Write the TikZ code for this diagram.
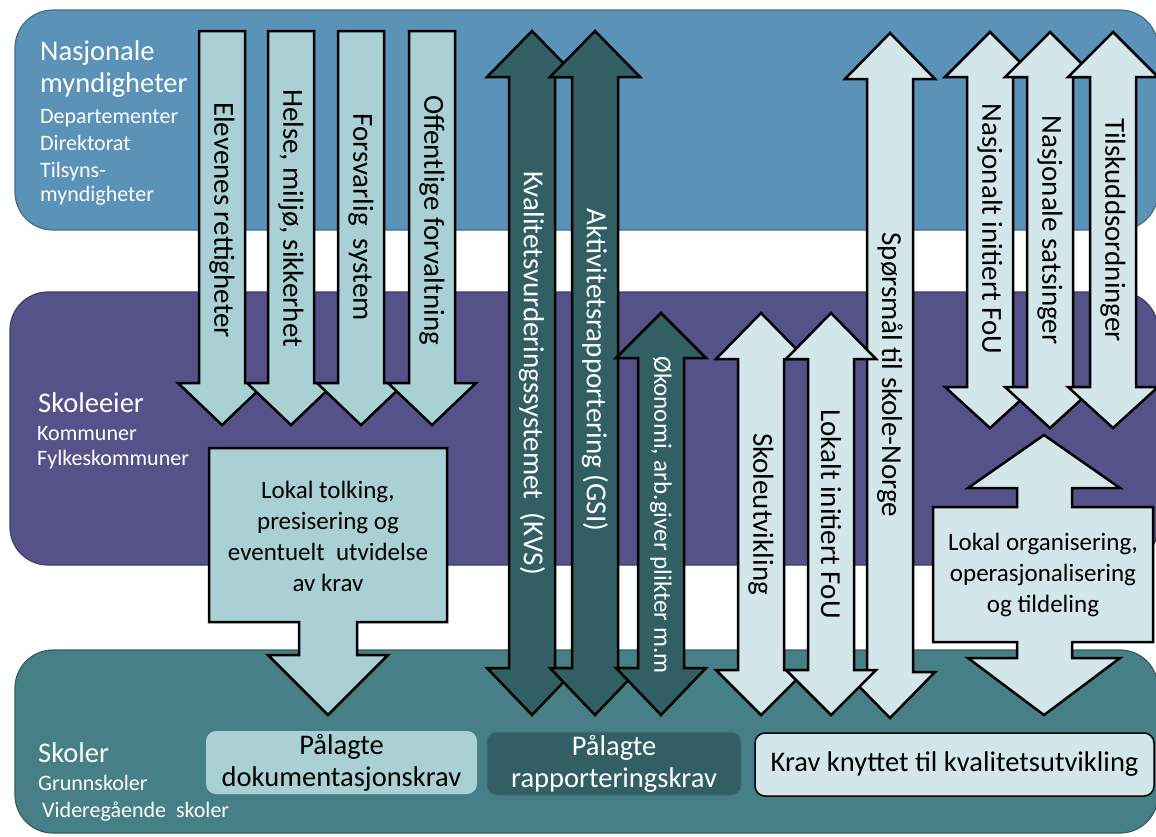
\documentclass[tikz,border=0pt]{standalone}
\usepackage{fontspec}
\setmainfont{Carlito}

\definecolor{topband}{HTML}{5B92B8}
\definecolor{midband}{HTML}{55528A}
\definecolor{botband}{HTML}{467F85}
\definecolor{lightarrow}{HTML}{A9D1D5}
\definecolor{palearrow}{HTML}{D3E7EA}
\definecolor{darkarrow}{HTML}{315F63}

\tikzset{
  band/.style={rounded corners=38pt, line width=1.2pt},
  blockline/.style={draw=black, line width=2.5pt, line join=miter},
  vtext/.style={rotate=-90, inner sep=0pt, font=\fontsize{29}{33}\selectfont},
  headlabel/.style={anchor=base west, inner sep=0pt, text=white, font=\fontsize{28.5}{32}\selectfont},
  sublabel/.style={anchor=base west, inner sep=0pt, text=white, font=\fontsize{22}{26}\selectfont},
  boxtext/.style={align=center, inner sep=0pt, font=\fontsize{25}{31}\selectfont},
  reqbox/.style={rounded corners=10pt, align=center, inner sep=0pt, font=\fontsize{28.5}{32}\selectfont}
}

% single block arrow pointing down: fill, x, top, head base, tip
\newcommand{\downblock}[5]{%
  \draw[blockline, fill=#1] (#2-23,#3) -- (#2+23,#3) -- (#2+23,#4) -- (#2+44,#4)
    -- (#2,#5) -- (#2-44,#4) -- (#2-23,#4) -- cycle;}

% block arrow with heads at both ends: fill, x, top tip, top base, bottom base, bottom tip
\newcommand{\bothblock}[6]{%
  \draw[blockline, fill=#1] (#2,#3) -- (#2+45,#4) -- (#2+23,#4) -- (#2+23,#5) -- (#2+45,#5)
    -- (#2,#6) -- (#2-45,#5) -- (#2-23,#5) -- (#2-23,#4) -- (#2-45,#4) -- cycle;}

\begin{document}
\begin{tikzpicture}[x=1pt, y=-1pt]
  \useasboundingbox[fill=white] (0,0) rectangle (1156,836);

  % the three levels
  \draw[band, fill=topband, draw=topband!75!black] (15,10) rectangle (1158,230);
  \draw[band, fill=midband, draw=midband!75!black] (10,292) rectangle (1158,565);
  \draw[band, fill=botband, draw=botband!75!black] (15,650) rectangle (1158,833);

  \node[headlabel] (nasA) at (40,60) {Nasjonale};
  \node[headlabel] (nasB) at (40,92) {myndigheter};
  \node[sublabel] (dep) at (40,123) {Departementer};
  \node[sublabel] (dir) at (40,150) {Direktorat};
  \node[sublabel] (tilA) at (40,177) {Tilsyns-};
  \node[sublabel] (tilB) at (40,201) {myndigheter};

  \node[headlabel] (eier) at (38,412) {Skoleeier};
  \node[sublabel] (komm) at (37,440) {Kommuner};
  \node[sublabel] (fylk) at (37,465) {Fylkeskommuner};

  \node[headlabel] (skol) at (38,762) {Skoler};
  \node[sublabel] (grunn) at (38,790) {Grunnskoler};
  \node[sublabel] (vgs) at (42,817) {Videregående~ skoler};

  % requirements from the national level
  \downblock{lightarrow}{222}{31}{383}{425}
  \downblock{lightarrow}{291}{31}{383}{425}
  \downblock{lightarrow}{361}{31}{383}{425}
  \downblock{lightarrow}{432}{31}{383}{425}
  \node[vtext] (elev) at (222,220) {Elevenes rettigheter};
  \node[vtext] (helse) at (291,218) {Helse, miljø, sikkerhet};
  \node[vtext] (forsv) at (361,217) {Forsvarlig~ system};
  \node[vtext] (offent) at (432,220) {Offentlige forvaltning};

  \draw[blockline, fill=lightarrow] (209,448) -- (447,448) -- (447,622) -- (357,622) -- (357,655)
    -- (388,655) -- (328,715) -- (268,655) -- (299,655) -- (299,622) -- (209,622) -- cycle;
  \node[boxtext] (tolk) at (328,536) {Lokal tolking,\\presisering og\\eventuelt~ utvidelse\\av krav};

  % reporting
  \bothblock{darkarrow}{532}{31}{77}{668}{715}
  \bothblock{darkarrow}{595}{31}{77}{668}{715}
  \bothblock{darkarrow}{661}{313}{358}{668}{715}
  \node[vtext, text=white] (kvs) at (532,373) {Kvalitetsvurderingssystemet~ (KVS)};
  \node[vtext, text=white] (gsi) at (595,370) {Aktivitetsrapportering (GSI)};
  \node[vtext, text=white, font=\fontsize{25}{30}\selectfont] (okon) at (661,515) {Økonomi, arb.giver plikter m.m};

  % quality development
  \bothblock{palearrow}{890}{33}{79}{672}{718}
  \bothblock{palearrow}{761}{313}{359}{670}{715}
  \bothblock{palearrow}{831}{313}{359}{670}{715}
  \node[vtext] (sporsm) at (890,375) {Spørsmål til skole-Norge};
  \node[vtext] (skut) at (761,514) {Skoleutvikling};
  \node[vtext] (lokfou) at (831,514) {Lokalt initiert FoU};

  \bothblock{palearrow}{990}{32}{77}{387}{428}
  \bothblock{palearrow}{1050}{32}{77}{387}{428}
  \bothblock{palearrow}{1113}{32}{77}{387}{428}
  \node[vtext] (nasfou) at (990,229) {Nasjonalt initiert FoU};
  \node[vtext] (nassats) at (1050,230) {Nasjonale satsinger};
  \node[vtext] (tilsk) at (1113,230) {Tilskuddsordninger};

  \draw[blockline, fill=palearrow] (1044,435) -- (1120,488) -- (1072,488) -- (1072,507) -- (1153,507)
    -- (1153,642) -- (1072,642) -- (1072,658) -- (1120,658) -- (1044,715) -- (968,658) -- (1017,658)
    -- (1017,642) -- (933,642) -- (933,507) -- (1017,507) -- (1017,488) -- (968,488) -- cycle;
  \node[boxtext] (organ) at (1043,575) {Lokal organisering,\\operasjonalisering\\og tildeling};

  % requirements at the schools
  \node[reqbox, fill=lightarrow, minimum width=271, minimum height=63] (dokkrav) at (341.5,762.5)
    {Pålagte\\dokumentasjonskrav};
  \node[reqbox, fill=darkarrow, draw=botband!55!darkarrow, line width=1pt, text=white,
    minimum width=254, minimum height=63] (rapkrav) at (614,763.5) {Pålagte\\rapporteringskrav};
  \node[reqbox, fill=palearrow, draw=black, line width=1.5pt, minimum width=399, minimum height=63]
    (kvalkrav) at (954.5,764.5) {Krav knyttet til kvalitetsutvikling};
\end{tikzpicture}
\end{document}
